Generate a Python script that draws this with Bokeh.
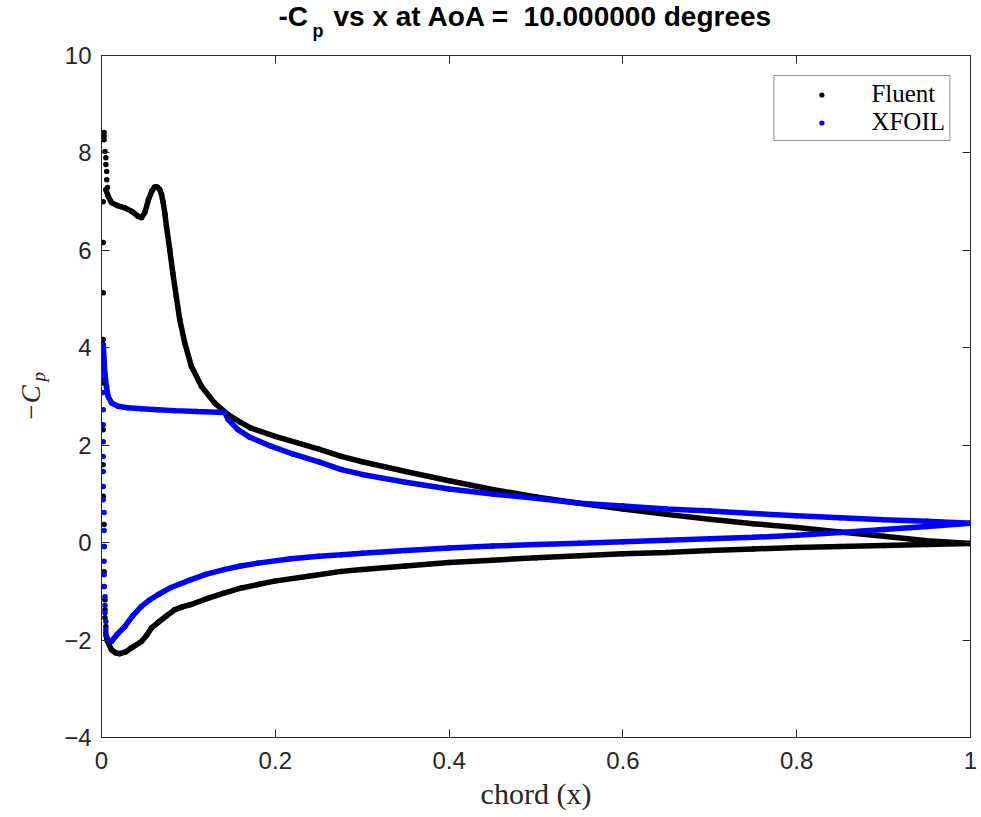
import math
from bokeh.plotting import figure
from bokeh.layouts import column, row
from bokeh.models import (Label, Legend, LegendItem, LinearAxis, Range1d, FixedTicker,
                          CustomJSTickFormatter)
from bokeh.embed import file_html
from bokeh.resources import INLINE

# ---------------- data ----------------
# Fluent: leading-edge points (scatter only)
fluent_le_x = [0.003, 0.003, 0.003, 0.004, 0.005, 0.005, 0.006, 0.006, 0.007,
               0.002, 0.002, 0.002, 0.002, 0.002, 0.002, 0.002, 0.002, 0.003,
               0.003, 0.003, 0.003, 0.004, 0.004, 0.004, 0.005, 0.005]
fluent_le_y = [8.42, 8.34, 8.27, 8.03, 7.90, 7.76, 7.62, 7.45, 7.29,
               7.00, 6.16, 5.13, 4.17, 3.28, 2.32, 1.60, 0.95, 0.37,
               -0.08, -0.60, -0.90, -1.17, -1.38, -1.54, -1.72, -1.85]
# Fluent upper surface
fluent_up_x = [0.005, 0.0077, 0.0115, 0.018, 0.027, 0.035, 0.042, 0.046, 0.050,
               0.054, 0.058, 0.061, 0.064, 0.067, 0.069, 0.071, 0.073, 0.0747,
               0.0785, 0.082, 0.086, 0.090, 0.0958, 0.1034, 0.115, 0.130, 0.1456,
               0.16, 0.172, 0.2, 0.25, 0.276, 0.3, 0.35, 0.4, 0.45, 0.5, 0.55,
               0.6, 0.65, 0.7, 0.75, 0.8, 0.85, 0.9, 0.95, 1.0]
fluent_up_y = [7.25, 7.11, 6.98, 6.92, 6.87, 6.80, 6.70, 6.67, 6.78,
               7.04, 7.22, 7.30, 7.30, 7.25, 7.15, 6.98, 6.75, 6.50,
               6.02, 5.54, 5.06, 4.58, 4.10, 3.62, 3.21, 2.87, 2.63,
               2.47, 2.35, 2.18, 1.92, 1.77, 1.66, 1.46, 1.27, 1.09, 0.94, 0.81,
               0.69, 0.58, 0.48, 0.39, 0.31, 0.22, 0.13, 0.04, -0.02]
# Fluent lower surface
fluent_lo_x = [0.006, 0.0115, 0.016, 0.021, 0.028, 0.0345, 0.046, 0.052, 0.0575,
               0.065, 0.075, 0.084, 0.093, 0.103, 0.123, 0.14, 0.161, 0.18, 0.199,
               0.238, 0.276, 0.3, 0.35, 0.4, 0.45, 0.5, 0.55, 0.6, 0.65, 0.7,
               0.75, 0.8, 0.85, 0.9, 0.95, 1.0]
fluent_lo_y = [-1.99, -2.20, -2.26, -2.28, -2.24, -2.16, -2.03, -1.90, -1.75,
               -1.64, -1.50, -1.38, -1.32, -1.27, -1.14, -1.04, -0.93, -0.86, -0.79,
               -0.69, -0.59, -0.55, -0.48, -0.41, -0.36, -0.31, -0.27, -0.23, -0.20, -0.16,
               -0.13, -0.10, -0.08, -0.06, -0.04, -0.02]

# XFOIL: leading-edge points (scatter only)
xfoil_le_x = [0.002, 0.002, 0.002, 0.002, 0.002, 0.002, 0.002, 0.002, 0.002,
              0.002, 0.002, 0.002, 0.003, 0.003, 0.003, 0.003, 0.003, 0.003,
              0.004, 0.004, 0.004, 0.005, 0.005]
xfoil_le_y = [3.90, 3.70, 3.55, 3.35, 3.08, 2.73, 2.42, 2.07, 1.77,
              1.46, 1.15, 0.88, 0.62, 0.25, -0.08, -0.38, -0.66, -0.90,
              -1.11, -1.29, -1.44, -1.62, -1.79]
# XFOIL upper surface
xfoil_up_x = [0.002, 0.003, 0.004, 0.0057, 0.0077, 0.0115, 0.019, 0.03, 0.046,
              0.065, 0.084, 0.11, 0.142, 0.1456, 0.150, 0.157, 0.17, 0.195, 0.22,
              0.25, 0.276, 0.3, 0.35, 0.4, 0.45, 0.5, 0.55, 0.6, 0.65, 0.7,
              0.75, 0.8, 0.85, 0.9, 0.95, 1.0]
xfoil_up_y = [4.07, 3.75, 3.45, 3.20, 3.00, 2.87, 2.80, 2.77, 2.75,
              2.73, 2.71, 2.69, 2.67, 2.53, 2.45, 2.32, 2.17, 1.98, 1.82,
              1.66, 1.50, 1.40, 1.24, 1.10, 1.00, 0.91, 0.81, 0.75, 0.69, 0.65,
              0.60, 0.55, 0.51, 0.47, 0.44, 0.40]
# XFOIL lower surface
xfoil_lo_x = [0.005, 0.008, 0.0115, 0.018, 0.027, 0.036, 0.046, 0.055, 0.065,
              0.08, 0.103, 0.12, 0.142, 0.16, 0.18, 0.218, 0.25, 0.276, 0.3,
              0.35, 0.4, 0.45, 0.5, 0.55, 0.6, 0.65, 0.7, 0.75, 0.8, 0.85,
              0.9, 0.95, 1.0]
xfoil_lo_y = [-1.90, -2.00, -2.03, -1.88, -1.72, -1.50, -1.31, -1.18, -1.07,
              -0.92, -0.76, -0.65, -0.55, -0.48, -0.42, -0.33, -0.28, -0.25, -0.22,
              -0.16, -0.11, -0.07, -0.04, -0.01, 0.02, 0.05, 0.08, 0.11, 0.15, 0.21,
              0.27, 0.33, 0.40]

x_ticks = [0, 0.2, 0.4, 0.6, 0.8, 1]
y_ticks = [-4, -2, 0, 2, 4, 6, 8, 10]
series_names = ["Fluent", "XFOIL"]
title_parts = ["-C", "p", "vs x at AoA = \u00a010.000000 degrees"]
xlabel_text = "chord (x)"
ylabel_parts = ["\u2212C", "p"]

AX = "#262626"
FRAME_L, FRAME_R, FRAME_T, FRAME_B = 101, 970, 55, 737   # page pixels of the axes box

# ---------------- title strip ----------------
TW, TH = 980, 41
tfig = figure(width=TW, height=TH, x_range=Range1d(0, 1), y_range=Range1d(0, 1),
              output_backend="svg", toolbar_location=None,
              x_axis_location=None, y_axis_location=None,
              min_border=0, min_border_left=0, min_border_right=0,
              min_border_top=0, min_border_bottom=0)
tfig.outline_line_color = None
tfig.xgrid.visible = False
tfig.ygrid.visible = False

def tlabel(fig, x, y, text, size, style="bold", font="Liberation Sans", color="black", angle=0.0):
    fig.add_layout(Label(x=x, y=y, x_units="screen", y_units="screen", text=text,
                         text_font=font, text_font_style=style, text_font_size=f"{size}px",
                         text_color=color, text_align="left", text_baseline="alphabetic",
                         angle=angle))

# baseline correction observed for Bokeh's label placement (~0.35 em)
tlabel(tfig, 278, TH - 26 + 0.35 * 28, title_parts[0], 28)
tlabel(tfig, 312, TH - 37 + 0.35 * 18, title_parts[1], 18)
tlabel(tfig, 333, TH - 26 + 0.35 * 28, title_parts[2], 28)

# ---------------- main plot ----------------
LW_, MH = 50, 817 - TH
MW = TW - LW_
p = figure(width=MW, height=MH, x_range=Range1d(0, 1), y_range=Range1d(-4, 10),
           output_backend="svg", toolbar_location=None,
           min_border_left=FRAME_L - LW_, min_border_right=MW - (FRAME_R - LW_),
           min_border_top=FRAME_T - TH, min_border_bottom=MH - (FRAME_B - TH))
p.background_fill_color = "white"
p.border_fill_color = "white"
p.outline_line_color = AX
p.outline_line_width = 1
p.xgrid.visible = False
p.ygrid.visible = False

def style_axis(ax, ticks, show_labels=True, standoff=12):
    ax.ticker = FixedTicker(ticks=ticks)
    ax.axis_line_color = AX
    ax.major_tick_line_color = AX
    ax.major_tick_in = 8
    ax.major_tick_out = 0
    ax.minor_tick_line_color = None
    ax.major_label_text_font = "Liberation Sans"
    ax.major_label_text_color = AX
    ax.major_label_text_font_size = "24px"
    if show_labels:
        ax.major_label_standoff = standoff
    else:
        ax.formatter = CustomJSTickFormatter(code="return ''")
        ax.major_label_standoff = 0

style_axis(p.xaxis[0], x_ticks, True, 14)
style_axis(p.yaxis[0], y_ticks, True, 10)
p.xaxis[0].major_label_overrides = {0: "0", 1: "1"}
p.xaxis[0].axis_label = xlabel_text
p.xaxis[0].axis_label_text_font = "Liberation Serif"
p.xaxis[0].axis_label_text_font_style = "normal"
p.xaxis[0].axis_label_text_font_size = "30px"
p.xaxis[0].axis_label_text_color = AX
p.xaxis[0].axis_label_standoff = 5

ax_top = LinearAxis()
style_axis(ax_top, x_ticks, False)
p.add_layout(ax_top, "above")
ax_right = LinearAxis()
style_axis(ax_right, y_ticks, False)
p.add_layout(ax_right, "right")

LW = 5.5
MS = 5.5
p.line(fluent_up_x, fluent_up_y, line_color="black", line_width=LW)
p.line(fluent_lo_x, fluent_lo_y, line_color="black", line_width=LW)
p.line(xfoil_up_x, xfoil_up_y, line_color="blue", line_width=LW)
p.line(xfoil_lo_x, xfoil_lo_y, line_color="blue", line_width=LW)

fx = fluent_le_x + fluent_up_x + fluent_lo_x
fy = fluent_le_y + fluent_up_y + fluent_lo_y
xx = xfoil_le_x + xfoil_up_x + xfoil_lo_x
xy = xfoil_le_y + xfoil_up_y + xfoil_lo_y
s_f = p.scatter(fx, fy, size=MS, fill_color="black", line_color=None)
s_x = p.scatter(xx, xy, size=MS, fill_color="blue", line_color=None)

legend = Legend(items=[LegendItem(label=series_names[0], renderers=[s_f]),
                       LegendItem(label=series_names[1], renderers=[s_x])],
                location="top_right", margin=20, padding=4, spacing=0,
                glyph_width=86, glyph_height=13, label_height=27, label_standoff=7,
                label_text_font="Liberation Serif", label_text_font_size="25px",
                label_text_color="black", border_line_color=AX, border_line_width=1,
                background_fill_color="white", background_fill_alpha=1.0)
p.add_layout(legend)

# ---------------- y label strip (its frame is aligned with the main frame) ----------------
yfig = figure(width=LW_, height=MH, x_range=Range1d(0, 1), y_range=Range1d(0, 1),
              output_backend="svg", toolbar_location=None,
              x_axis_location=None, y_axis_location=None,
              min_border=0, min_border_left=0, min_border_right=0,
              min_border_top=FRAME_T - TH, min_border_bottom=MH - (FRAME_B - TH))
yfig.outline_line_color = None
yfig.xgrid.visible = False
yfig.ygrid.visible = False
tlabel(yfig, 40 - 0.35 * 27, FRAME_B - 421, ylabel_parts[0], 27, style="italic",
       font="Liberation Serif", color=AX, angle=math.pi / 2)
tlabel(yfig, 45 - 0.35 * 19, FRAME_B - 381, ylabel_parts[1], 19, style="italic",
       font="Liberation Serif", color=AX, angle=math.pi / 2)

layout = column(tfig, row(yfig, p, spacing=0), spacing=0)
open("out.html", "w").write(file_html(layout, INLINE))
